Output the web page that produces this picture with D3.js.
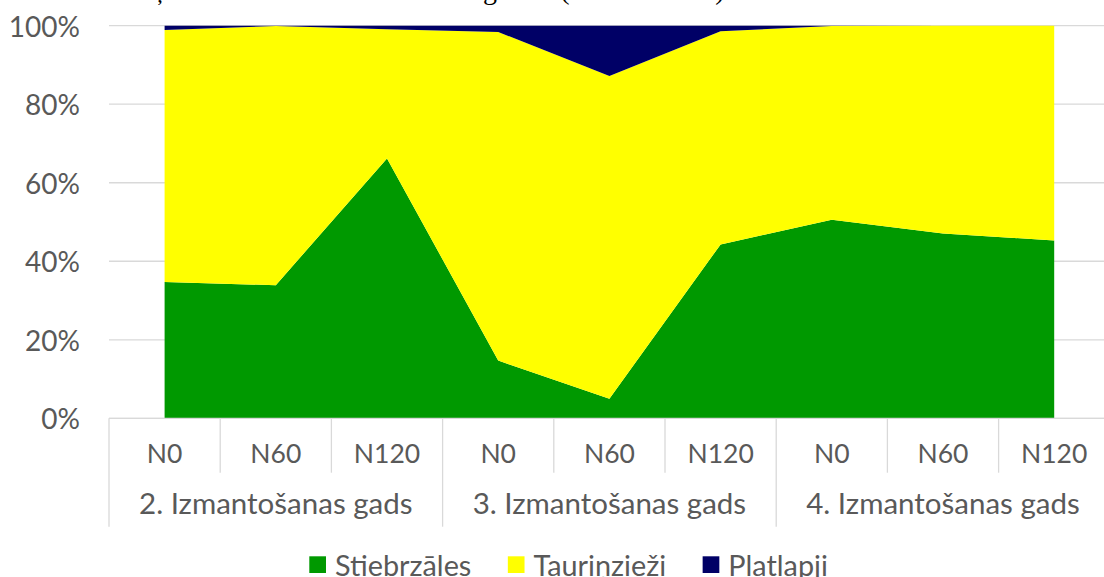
<!DOCTYPE html>
<html>
<head>
<meta charset="utf-8">
<script src="https://cdn.jsdelivr.net/npm/d3@7"></script>
<style>
  html, body { margin: 0; padding: 0; background: #fff; }
  svg { display: block; }
  text { font-family: Lato, "Open Sans", sans-serif; fill: #595959; }
</style>
</head>
<body>
<svg id="chart" width="1104" height="577"></svg>
<script>
// Treatments (nitrogen rates) within each year of use
const treatments = ["N0", "N60", "N120", "N0", "N60", "N120", "N0", "N60", "N120"];
const years = ["2. Izmantošanas gads", "3. Izmantošanas gads", "4. Izmantošanas gads"];

// Share of each botanical group, %
const stiebrzales = [34.7, 33.9, 66.2, 14.7, 5.0, 44.3, 50.6, 47.1, 45.3];
const taurinziezi = [64.2, 66.0, 32.9, 83.7, 82.2, 54.3, 49.3, 52.9, 54.7];
const platlapji   = [1.1, 0.1, 0.9, 1.6, 12.8, 1.4, 0.1, 0.0, 0.0];

const seriesNames = ["Stiebrzāles", "Tauriņzieži", "Platlapji"];
const seriesColors = ["#009900", "#FFFF00", "#000066"];
const yTicks = [0, 20, 40, 60, 80, 100];

const rows = treatments.map((t, i) => ({
  idx: i,
  "Stiebrzāles": stiebrzales[i],
  "Tauriņzieži": taurinziezi[i],
  "Platlapji": platlapji[i]
}));

const svg = d3.select("#chart");
const plotLeft = 109, plotRight = 1109.8, plotTop = 25.7, plotBottom = 418.3;

const x = d3.scaleBand().domain(d3.range(treatments.length)).range([plotLeft, plotRight]).paddingInner(0).paddingOuter(0);
const cx = i => x(i) + x.bandwidth() / 2;
const y = d3.scaleLinear().domain([0, 100]).range([plotBottom, plotTop]);

// Horizontal gridlines
svg.append("g").selectAll("line").data(yTicks).join("line")
  .attr("x1", plotLeft).attr("x2", 1104)
  .attr("y1", d => y(d)).attr("y2", d => y(d))
  .attr("stroke", "#d9d9d9").attr("stroke-width", 1.3);

// Stacked areas, normalised to 100 %
const stack = d3.stack().keys(seriesNames).offset(d3.stackOffsetExpand);
const stacked = stack(rows);
const area = d3.area()
  .x(d => cx(d.data.idx))
  .y0(d => y(d[0] * 100))
  .y1(d => y(d[1] * 100));

svg.append("g").selectAll("path").data(stacked).join("path")
  .attr("d", area)
  .attr("fill", (d, i) => seriesColors[i]);

// Y axis labels
svg.append("g").selectAll("text").data(yTicks).join("text")
  .attr("x", 80).attr("y", d => y(d))
  .attr("text-anchor", "end").attr("dominant-baseline", "central")
  .attr("font-size", 28)
  .text(d => d + "%");

// Category axis: baseline, tick separators, labels
const axisG = svg.append("g");
axisG.append("line")
  .attr("x1", plotLeft).attr("x2", 1104).attr("y1", plotBottom).attr("y2", plotBottom)
  .attr("stroke", "#d9d9d9").attr("stroke-width", 1.3);

const boundaries = d3.range(treatments.length + 1);
axisG.selectAll("line.sep").data(boundaries).join("line")
  .attr("class", "sep")
  .attr("x1", b => plotLeft + b * x.bandwidth())
  .attr("x2", b => plotLeft + b * x.bandwidth())
  .attr("y1", plotBottom)
  .attr("y2", b => (b % 3 === 0 ? 526.7 : 472.7))
  .attr("stroke", "#d9d9d9").attr("stroke-width", 1.3);

axisG.selectAll("text.cat").data(treatments).join("text")
  .attr("class", "cat")
  .attr("x", (d, i) => cx(i)).attr("y", 452.5)
  .attr("text-anchor", "middle").attr("dominant-baseline", "central")
  .attr("font-size", 26.5)
  .text(d => d);

axisG.selectAll("text.year").data(years).join("text")
  .attr("class", "year")
  .attr("x", (d, i) => plotLeft + (i * 3 + 1.5) * x.bandwidth()).attr("y", 514)
  .attr("text-anchor", "middle")
  .attr("font-size", 29.5)
  .text(d => d);

// Legend
const legend = svg.append("g");
let lx = 309.3;
seriesNames.forEach((name, i) => {
  legend.append("rect")
    .attr("x", lx).attr("y", 556.3).attr("width", 16.7).attr("height", 16.7)
    .attr("fill", seriesColors[i]);
  const t = legend.append("text")
    .attr("x", lx + 25.7).attr("y", 575.5)
    .attr("font-size", 28.8)
    .text(name);
  lx += 25.7 + t.node().getComputedTextLength() + 36.5;
});

// Chart heading above the plot (only its lowest strokes fall inside the frame)
const heading = svg.append("g");
[["ņ", 160], ["g", 490], ["(", 565], [")", 720]].forEach(([ch, px]) => {
  heading.append("text")
    .attr("x", px).attr("y", -1)
    .attr("text-anchor", "middle")
    .attr("font-size", 28)
    .style("fill", "#000")
    .style("font-family", "'Liberation Serif', serif")
    .text(ch);
});
</script>
</body>
</html>
